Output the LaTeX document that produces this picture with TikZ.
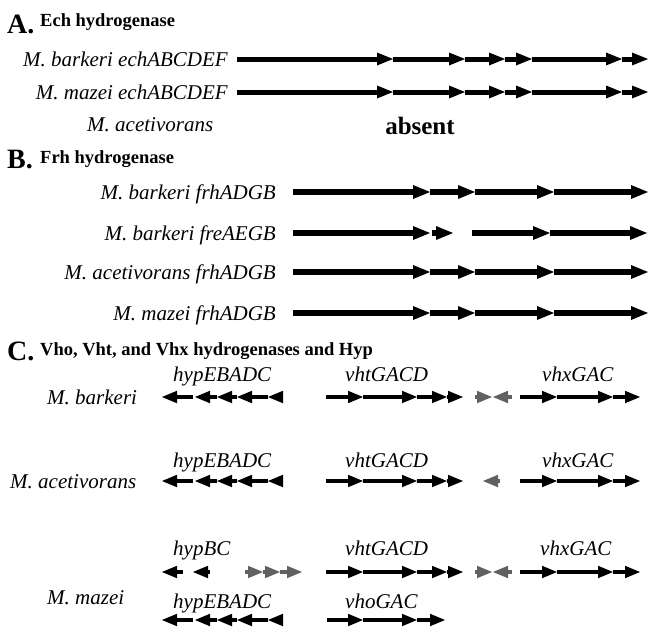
\documentclass[tikz,border=0pt]{standalone}
\usepackage{fontspec}
\setmainfont{Liberation Serif}
\usetikzlibrary{arrows.meta}

\definecolor{orfgray}{gray}{0.38}

\tikzset{
  orf/.style={line width=5pt, -{Triangle[length=16pt,width=13pt,line width=0pt]}},
  orfb/.style={line width=5.5pt, -{Triangle[length=17pt,width=14pt,line width=0pt]}},
  orfc/.style={line width=4.5pt, -{Triangle[length=15pt,width=12.5pt,line width=0pt]}},
  spec/.style={font=\fontsize{21}{24}\selectfont\itshape, inner sep=0pt},
  panel/.style={font=\fontsize{28}{30}\selectfont\bfseries, inner sep=0pt},
  title/.style={font=\fontsize{18.5}{21}\selectfont\bfseries, inner sep=0pt},
}

\begin{document}
\begin{tikzpicture}[x=1pt, y=-1pt]
    \useasboundingbox (0,0) rectangle (649,629);

    % A. Ech hydrogenase
    \node[panel, anchor=base west] (pA) at (7,33) {A.};
    \node[title, anchor=base west] (tA) at (40,27) {Ech hydrogenase};
    \node[spec, anchor=base east] (echbar) at (228,66) {M. barkeri echABCDEF};
    \node[spec, anchor=base east] (echmaz) at (228,99) {M. mazei echABCDEF};
    \node[spec, anchor=base west] (echace) at (87,131) {M. acetivorans};
    \node[font=\fontsize{25}{28}\selectfont\bfseries, inner sep=0pt, anchor=base] (absent) at (420,134) {absent};
    \foreach \y in {59,92}
        \foreach \a/\b in {237/393,393/465,465/505,505/532,532/622,622/648}
            \draw[orf] (\a,\y) -- (\b,\y);

    % B. Frh hydrogenase
    \node[panel, anchor=base west] (pB) at (7,168) {B.};
    \node[title, anchor=base west] (tB) at (40,163) {Frh hydrogenase};
    \node[spec, anchor=base east] (frhbar) at (276,199) {M. barkeri frhADGB};
    \node[spec, anchor=base east] (frebar) at (276,240) {M. barkeri freAEGB};
    \node[spec, anchor=base east] (frhace) at (276,279) {M. acetivorans frhADGB};
    \node[spec, anchor=base east] (frhmaz) at (276,320) {M. mazei frhADGB};
    \foreach \y in {192,272,313}
        \foreach \a/\b in {293/430,430/475,475/554,554/648}
            \draw[orfb] (\a,\y) -- (\b,\y);
    \foreach \a/\b in {293/430,432/453,472/550,550/647}
        \draw[orfb] (\a,233) -- (\b,233);

    % C. Vho, Vht, Vhx and Hyp
    \node[panel, anchor=base west] (pC) at (7,360) {C.};
    \node[title, anchor=base west] (tC) at (40,355) {Vho, Vht, and Vhx hydrogenases and Hyp};

    \node[spec, anchor=base west] (cbar) at (47,404) {M. barkeri};
    \node[spec, anchor=base west] (cace) at (10,488) {M. acetivorans};
    \node[spec, anchor=base west] (cmaz) at (47,604) {M. mazei};

    \node[spec, anchor=base west] (hypbar) at (173,381) {hypEBADC};
    \node[spec, anchor=base west] (vhtbar) at (345,381) {vhtGACD};
    \node[spec, anchor=base west] (vhxbar) at (542,381) {vhxGAC};
    \node[spec, anchor=base west] (hypace) at (173,467) {hypEBADC};
    \node[spec, anchor=base west] (vhtace) at (345,467) {vhtGACD};
    \node[spec, anchor=base west] (vhxace) at (542,467) {vhxGAC};
    \node[spec, anchor=base west] (hypbcmaz) at (173,555) {hypBC};
    \node[spec, anchor=base west] (vhtmaz) at (345,555) {vhtGACD};
    \node[spec, anchor=base west] (vhxmaz) at (540,555) {vhxGAC};
    \node[spec, anchor=base west] (hypmaz) at (173,608) {hypEBADC};
    \node[spec, anchor=base west] (vhomaz) at (345,608) {vhoGAC};

    % hyp operons (leftward)
    \foreach \y in {397,481,620}
        \foreach \a/\b in {193/162,217/195,237/217,268/237,283/268}
            \draw[orfc] (\a,\y) -- (\b,\y);
    % vht operons
    \foreach \y in {397,481,572}
        \foreach \a/\b in {326/363,363/417,417/447,447/463}
            \draw[orfc] (\a,\y) -- (\b,\y);
    % vhx operons
    \foreach \y in {397,481,572}
        \foreach \a/\b in {520/557,557/613,613/640}
            \draw[orfc] (\a,\y) -- (\b,\y);
    % vho operon
    \foreach \a/\b in {327/363,363/417,417/445}
        \draw[orfc] (\a,620) -- (\b,620);
    % hypBC
    \foreach \a/\b in {183/162,210/193}
        \draw[orfc] (\a,572) -- (\b,572);

    % grey ORFs
    \foreach \y in {397,572} {
        \draw[orfc, orfgray] (475,\y) -- (492,\y);
        \draw[orfc, orfgray] (512,\y) -- (493,\y);
    }
    \draw[orfc, orfgray] (500,481) -- (483,481);
    \foreach \a/\b in {245/263,263/280,280/302}
        \draw[orfc, orfgray] (\a,572) -- (\b,572);
\end{tikzpicture}
\end{document}
